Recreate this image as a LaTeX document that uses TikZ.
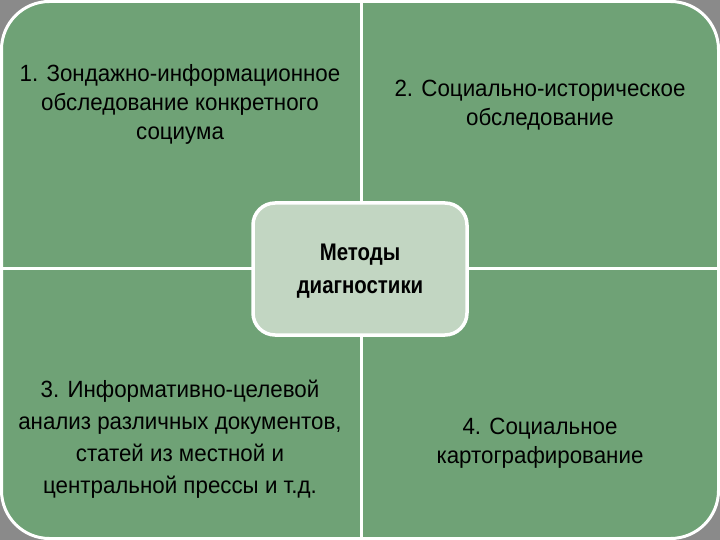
\documentclass[tikz,border=0pt]{standalone}
\usepackage{fontspec}
\setmainfont[FakeStretch=0.95]{Liberation Sans}
\newfontfamily\narrowbold[FakeStretch=0.85]{Liberation Sans}
\definecolor{qgreen}{HTML}{6FA276}
\definecolor{cgreen}{HTML}{C2D6C2}
\definecolor{bgstripe}{HTML}{8A8A8A}
\begin{document}
\begin{tikzpicture}[x=1pt,y=-1pt,
  qtext/.style={align=center,font=\fontsize{23.5}{29}\selectfont,text=black,inner sep=0pt},
  ctext/.style={align=center,font=\narrowbold\fontsize{24}{33}\bfseries\selectfont,text=black,inner sep=0pt}]
\useasboundingbox (0,0) rectangle (720,540);
\fill[bgstripe] (0,0) rectangle (720,540);
\filldraw[fill=qgreen,draw=white,line width=3pt,rounded corners=48pt] (1.5,1.5) rectangle (718.5,538.5);
\coordinate (top) at (361,0);
\coordinate (bot) at (361,540);
\coordinate (lft) at (0,268);
\coordinate (rgt) at (720,268);
\draw[white,line width=3pt] (top) -- (bot);
\draw[white,line width=3pt] (lft) -- (rgt);
\filldraw[fill=cgreen,draw=white,line width=3.5pt,rounded corners=22pt] (253,203) rectangle (467,335);
\node[ctext] (c) at (360,271) {Методы\\диагностики};
\node[qtext] (q1) at (180,104) {1. Зондажно-информационное\\обследование конкретного\\социума};
\node[qtext] (q2) at (540,105) {2. Социально-историческое\\обследование};
\node[qtext,font=\fontsize{23.5}{32}\selectfont] (q3) at (180,439) {3. Информативно-целевой\\анализ различных документов,\\статей из местной и\\центральной прессы и т.д.};
\node[qtext] (q4) at (540,443) {4. Социальное\\картографирование};
\end{tikzpicture}
\end{document}
